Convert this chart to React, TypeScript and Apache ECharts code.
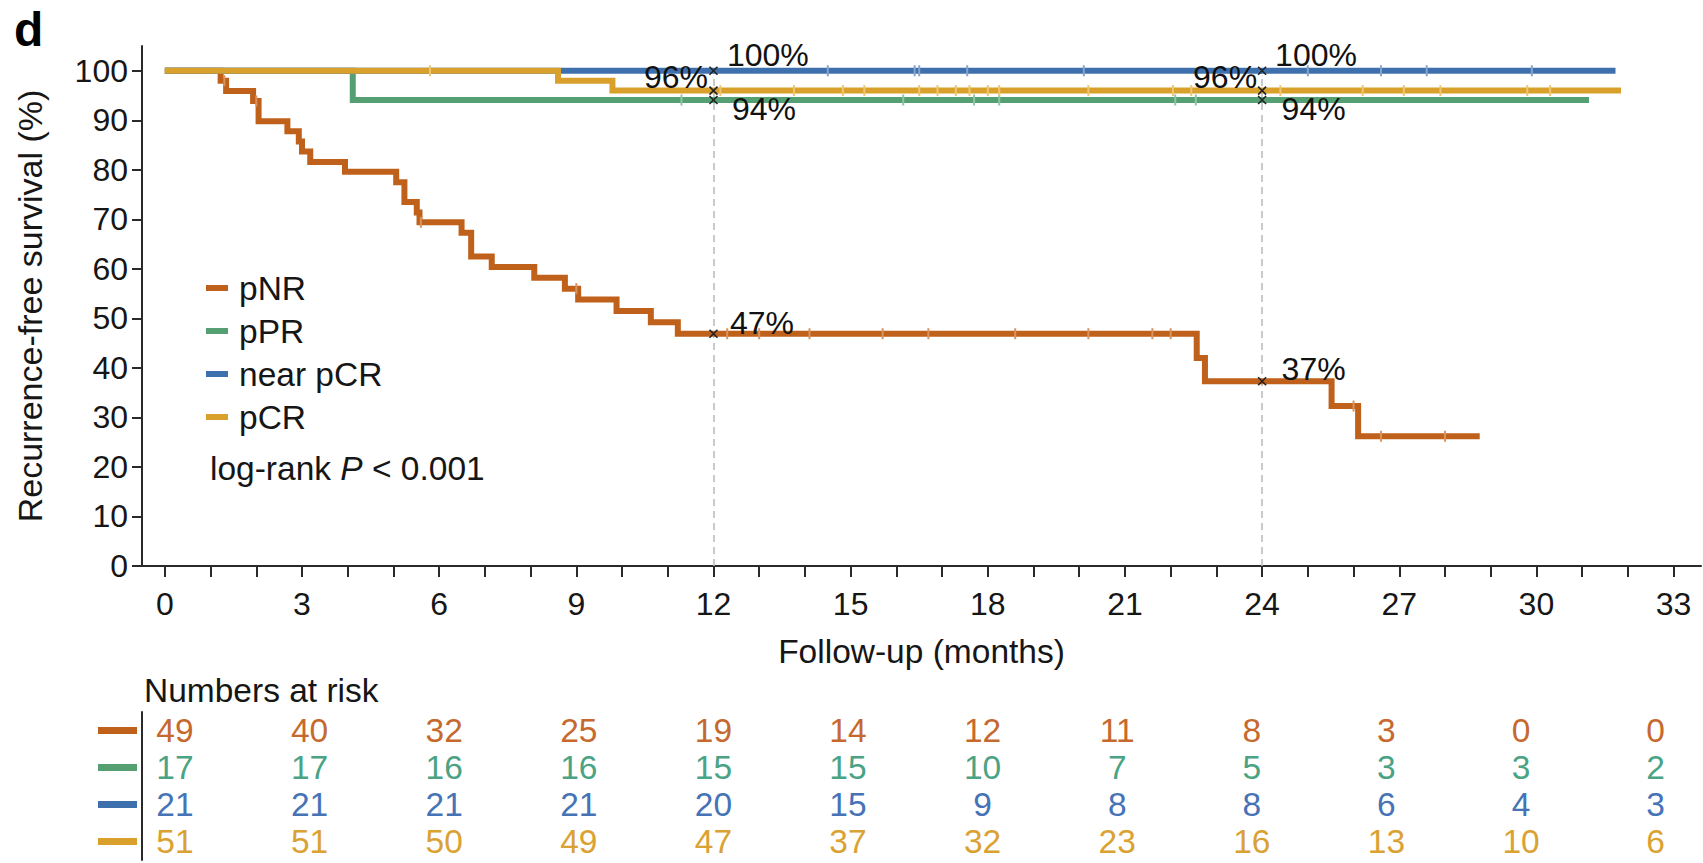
import React, { useEffect, useRef } from "react";
import * as echarts from "echarts";

const FONT = "'Liberation Sans', Arial, Helvetica, sans-serif";
const TEXT = "#161616";
const AXIS = "#2a2a2a";
const BIG = 33.5;

const groups = ["pNR", "pPR", "near pCR", "pCR"];
const colors = ["#C0611B", "#55A073", "#3F70AE", "#D9A02B"];
const riskColors = ["#C6692F", "#4AA384", "#4673B6", "#DAA232"];
const censorColors = ["#D9935F", "#92C3A3", "#86A4CC", "#EBC774"];

// Kaplan-Meier step points (month, survival %)
const pNRTimes = [0, 1.22, 1.34, 1.93, 2.05, 2.68, 2.93, 3.0, 3.18, 3.94, 5.06, 5.24, 5.51, 5.57, 6.49, 6.7, 7.15, 8.08, 8.75, 9.04, 9.88, 10.63, 11.22, 22.57, 22.75, 25.52, 26.1, 28.76];
const pNRSurv = [100, 98.0, 95.9, 93.9, 89.8, 87.8, 85.7, 83.7, 81.6, 79.6, 77.5, 73.5, 71.4, 69.4, 67.3, 62.5, 60.4, 58.2, 56.0, 53.8, 51.5, 49.2, 46.9, 42.0, 37.3, 32.3, 26.2, 26.2];
const pPRTimes = [0, 4.11, 31.15];
const pPRSurv = [100, 94.1, 94.1];
const nearTimes = [0, 31.73];
const nearSurv = [100, 100];
const pCRTimes = [0, 8.6, 9.79, 31.85];
const pCRSurv = [100, 98.0, 96.0, 96.0];

// censoring times (months)
const pNRCensor = [1.3, 2.0, 5.6, 9.0, 12.3, 13.0, 14.1, 15.7, 16.7, 18.6, 20.2, 21.6, 22.0, 26.0, 26.6, 28.0];
const pPRCensor = [11.3, 16.15, 17.7, 18.25, 22.1, 22.55];
const nearCensor = [14.5, 16.4, 16.5, 17.55, 20.1, 25.0, 26.6, 27.6, 29.9];
const pCRCensor = [5.8, 12.15, 13.76, 14.83, 15.3, 16.5, 16.9, 17.3, 17.6, 18.0, 18.25, 20.2, 22.05, 22.45, 24.4, 26.2, 27.1, 27.9, 29.8, 30.3];

// axis ticks
const xTickMonths = Array.from({ length: 34 }, (_, i) => i);
const xLabelMonths = [0, 3, 6, 9, 12, 15, 18, 21, 24, 27, 30, 33];
const yTickValues = [0, 10, 20, 30, 40, 50, 60, 70, 80, 90, 100];

// milestones
const milestones = [12, 24];

// numbers at risk (at 0, 3, ..., 33 months)
const riskMonths = [0, 3, 6, 9, 12, 15, 18, 21, 24, 27, 30, 33];
const pNRRisk = [49, 40, 32, 25, 19, 14, 12, 11, 8, 3, 0, 0];
const pPRRisk = [17, 17, 16, 16, 15, 15, 10, 7, 5, 3, 3, 2];
const nearRisk = [21, 21, 21, 21, 20, 15, 9, 8, 8, 6, 4, 3];
const pCRRisk = [51, 51, 50, 49, 47, 37, 32, 23, 16, 13, 10, 6];

const curveTimes = [pNRTimes, pPRTimes, nearTimes, pCRTimes];
const curveSurv = [pNRSurv, pPRSurv, nearSurv, pCRSurv];
const censors = [pNRCensor, pPRCensor, nearCensor, pCRCensor];
const riskRows = [pNRRisk, pPRRisk, nearRisk, pCRRisk];

function survAt(times: number[], surv: number[], t: number) {
  let v = surv[0];
  for (let i = 0; i < times.length; i++) if (times[i] <= t) v = surv[i];
  return v;
}

// label placement per group at milestones (style only)
const annotPlacement: any[][] = [
  [{ position: "right", offset: [5, -11] }, { position: "right", offset: [8, -12] }],
  [{ position: "right", offset: [7, 9] }, { position: "right", offset: [8, 9] }],
  [{ position: "right", offset: [2, -16] }, { position: "right", offset: [1.5, -16] }],
  [{ position: "left", offset: [6, -14] }, { position: "left", offset: [6.5, -14] }],
];

export default function App() {
  const ref = useRef<HTMLDivElement>(null);
  useEffect(() => {
    if (!ref.current) return;
    const chart = echarts.init(ref.current, undefined, { renderer: "svg" });

    const series: any[] = [];
    groups.forEach((g, gi) => {
      series.push({
        name: g,
        type: "line",
        step: "end",
        showSymbol: false,
        xAxisIndex: 0,
        yAxisIndex: 0,
        data: curveTimes[gi].map((t, i) => [t, curveSurv[gi][i]]),
        lineStyle: { color: colors[gi], width: 6, cap: "butt", join: "miter" },
        itemStyle: { color: colors[gi] },
        z: 2 + gi,
      });
    });
    groups.forEach((g, gi) => {
      series.push({
        name: g + " censored",
        type: "scatter",
        xAxisIndex: 0,
        yAxisIndex: 0,
        symbol: "rect",
        symbolSize: [2, 11],
        data: censors[gi].map((t) => [t, survAt(curveTimes[gi], curveSurv[gi], t)]),
        itemStyle: { color: censorColors[gi], opacity: 1 },
        z: 10,
        silent: true,
      });
    });

    const annotData: any[] = [];
    milestones.forEach((m, mi) => {
      groups.forEach((g, gi) => {
        const v = survAt(curveTimes[gi], curveSurv[gi], m);
        const pl = annotPlacement[gi][mi];
        annotData.push({
          value: [m, v],
          label: {
            show: true,
            position: pl.position,
            offset: pl.offset,
            color: "#111",
            formatter: Math.round(v) + "%",
          },
        });
      });
    });
    series.push({
      name: "milestones",
      type: "scatter",
      xAxisIndex: 0,
      yAxisIndex: 0,
      symbol: "path://M0,0L10,10M10,0L0,10",
      symbolSize: 8,
      itemStyle: { color: "none", borderColor: "#222", borderWidth: 1.6, opacity: 1 },
      label: { color: "#111", fontSize: 32, fontFamily: FONT },
      data: annotData,
      z: 20,
      silent: true,
      markLine: {
        silent: true,
        symbol: "none",
        label: { show: false },
        lineStyle: { type: [7, 5], color: "#BDBDBD", width: 1.6 },
        data: milestones.map((m) => [{ coord: [m, 0] }, { coord: [m, 100] }]),
        z: 1,
      },
    });

    groups.forEach((g, gi) => {
      series.push({
        name: g + " at risk",
        type: "scatter",
        xAxisIndex: 1,
        yAxisIndex: 1,
        symbolSize: 0,
        itemStyle: { opacity: 1 },
        data: riskRows[gi].map((v, k) => [riskMonths[k] / 3, g, v]),
        label: {
          show: true,
          position: "inside",
          formatter: (p: any) => String(p.value[2]),
          color: riskColors[gi],
          fontSize: BIG,
          fontFamily: FONT,
        },
        silent: true,
      });
    });
    series.push({
      name: "risk keys",
      type: "scatter",
      xAxisIndex: 1,
      yAxisIndex: 1,
      clip: false,
      symbol: "rect",
      symbolSize: [39, 7],
      data: groups.map((g, gi) => ({ value: [-0.427, g], itemStyle: { color: colors[gi], opacity: 1 } })),
      silent: true,
    });

    chart.setOption({
      animation: false,
      backgroundColor: "#ffffff",
      textStyle: { fontFamily: FONT },
      grid: [
        { left: 142, right: 2, top: 46, bottom: 297, containLabel: false },
        { left: 142, right: 0, top: 712, height: 148, containLabel: false },
      ],
      legend: {
        data: groups,
        orient: "vertical",
        left: 201,
        top: 266,
        padding: 5,
        itemWidth: 22,
        itemHeight: 6,
        itemGap: 9,
        icon: "rect",
        itemStyle: { borderWidth: 0 },
        textStyle: { fontSize: BIG, color: TEXT, fontFamily: FONT, padding: [0, 0, 0, 6] },
        selectedMode: false,
      },
      xAxis: [
        {
          type: "value",
          gridIndex: 0,
          min: -0.5,
          max: 33.6,
          name: "Follow-up (months)",
          nameLocation: "middle",
          nameGap: 68,
          nameTextStyle: { fontSize: BIG, color: TEXT, fontFamily: FONT },
          axisLine: { show: true, onZero: false, lineStyle: { color: AXIS, width: 2 } },
          axisTick: { show: true, length: 11, customValues: xTickMonths, lineStyle: { color: AXIS, width: 2 } },
          axisLabel: { customValues: xLabelMonths, fontSize: 32, color: TEXT, margin: 22, fontFamily: FONT },
          splitLine: { show: false },
        },
        {
          type: "value",
          gridIndex: 1,
          min: -0.245,
          max: 11.352,
          show: false,
        },
      ],
      yAxis: [
        {
          type: "value",
          gridIndex: 0,
          min: 0,
          max: 105,
          name: "Recurrence-free survival (%)",
          nameLocation: "middle",
          nameGap: 95,
          nameTextStyle: { fontSize: 34, color: TEXT, fontFamily: FONT },
          axisLine: { show: true, onZero: false, lineStyle: { color: AXIS, width: 2 } },
          axisTick: { show: true, length: 10, customValues: yTickValues, lineStyle: { color: AXIS, width: 2 } },
          axisLabel: { customValues: yTickValues, fontSize: 32, color: TEXT, margin: 14, fontFamily: FONT },
          splitLine: { show: false },
        },
        {
          type: "category",
          gridIndex: 1,
          data: groups,
          inverse: true,
          axisLine: { show: true, onZero: false, lineStyle: { color: AXIS, width: 2 } },
          axisTick: { show: false },
          axisLabel: { show: false },
          splitLine: { show: false },
        },
      ],
      graphic: [
        {
          type: "text",
          left: 14,
          top: 5,
          style: { text: "d", fontSize: 48, fontWeight: "bold", fontFamily: FONT, fill: "#000" },
        },
        {
          type: "text",
          x: 210,
          y: 468,
          style: {
            text: "log-rank {i|P} < 0.001",
            fontSize: BIG,
            fontFamily: FONT,
            fill: TEXT,
            verticalAlign: "middle",
            rich: { i: { fontStyle: "italic", fontSize: BIG, fontFamily: FONT, fill: TEXT } },
          },
        },
        {
          type: "text",
          x: 144,
          y: 690,
          style: { text: "Numbers at risk", fontSize: BIG, fontFamily: FONT, fill: TEXT, verticalAlign: "middle" },
        },
      ],
      series,
    });
    return () => chart.dispose();
  }, []);
  return (
    <div
      ref={ref}
      style={{ position: "fixed", left: 0, top: 0, width: 1703, height: 863, background: "#fff" }}
    />
  );
}
